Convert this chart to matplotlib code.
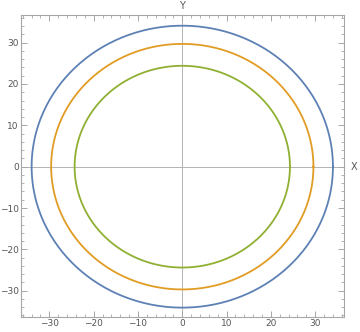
import numpy as np
import matplotlib.pyplot as plt
from matplotlib.ticker import MultipleLocator

# -------------------------------
# Data: radii of the three curves
# -------------------------------
names = ["outer", "middle", "inner"]
radius_x = [34.0, 29.6, 24.3]
radius_y = [34.1, 29.7, 24.4]
colors = ["#5E81B5", "#E19C24", "#8FB032"]

t = np.linspace(0, 2 * np.pi, 400)

fig = plt.figure(figsize=(3.6, 3.32), dpi=100)
ax = fig.add_axes([0.0583, 0.046, 0.8973, 0.909])

# axes through origin
ax.axhline(0, color="#b3b3b3", lw=0.7, zorder=1)
ax.axvline(0, color="#b3b3b3", lw=0.7, zorder=1)

for rx, ry, c in zip(radius_x, radius_y, colors):
    ax.plot(rx * np.cos(t), ry * np.sin(t), color=c, lw=1.3, zorder=2)

ax.set_xlim(-36.4, 36.5)
ax.set_ylim(-36.3, 36.7)

# Mathematica-like frame
for s in ax.spines.values():
    s.set_color("#a6a6a6")
    s.set_linewidth(0.8)

ax.xaxis.set_major_locator(MultipleLocator(10))
ax.xaxis.set_minor_locator(MultipleLocator(2))
ax.yaxis.set_major_locator(MultipleLocator(10))
ax.yaxis.set_minor_locator(MultipleLocator(2))
ax.tick_params(which="both", direction="in", top=True, right=True,
               color="#a6a6a6", labelcolor="#555555", labelsize=6.5, pad=1.5)
ax.tick_params(which="major", length=4, width=0.7)
ax.tick_params(which="minor", length=2, width=0.6)

# axis labels at the ends of the origin axes
ax.annotate("X", xy=(1.0, 0), xycoords=("axes fraction", "data"),
            xytext=(5, 0), textcoords="offset points",
            ha="left", va="center", fontsize=7, color="#555555")
ax.annotate("Y", xy=(0, 1.0), xycoords=("data", "axes fraction"),
            xytext=(0, 3), textcoords="offset points",
            ha="center", va="bottom", fontsize=7, color="#555555")

fig.savefig("out.png", dpi=100)
